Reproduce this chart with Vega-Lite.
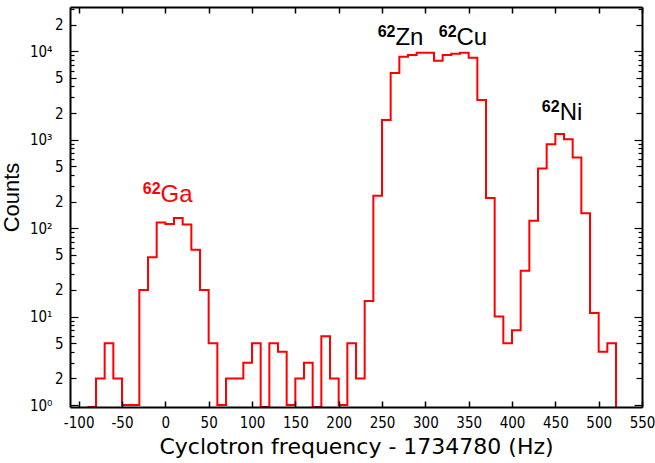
{
  "$schema": "https://vega.github.io/schema/vega-lite/v6.json",
  "width": 572,
  "height": 400,
  "autosize": {"type": "none"},
  "padding": {"left": 70, "top": 7, "right": 13, "bottom": 56},
  "background": "white",
  "config": {
    "view": {"stroke": null},
    "axis": {"titleFontWeight": "normal", "titleColor": "black", "labelColor": "black", "tickColor": "black", "domainColor": "black", "grid": false}
  },
  "datasets": {
    "hist": [
      {"lo": -90, "count": 0}, {"lo": -80, "count": 2}, {"lo": -70, "count": 5}, {"lo": -60, "count": 2},
      {"lo": -50, "count": 1}, {"lo": -40, "count": 1}, {"lo": -30, "count": 20}, {"lo": -20, "count": 47},
      {"lo": -10, "count": 116}, {"lo": 0, "count": 111}, {"lo": 10, "count": 130}, {"lo": 20, "count": 110},
      {"lo": 30, "count": 57}, {"lo": 40, "count": 20}, {"lo": 50, "count": 5}, {"lo": 60, "count": 1},
      {"lo": 70, "count": 2}, {"lo": 80, "count": 2}, {"lo": 90, "count": 3}, {"lo": 100, "count": 5},
      {"lo": 110, "count": 0}, {"lo": 120, "count": 5}, {"lo": 130, "count": 4}, {"lo": 140, "count": 1},
      {"lo": 150, "count": 2}, {"lo": 160, "count": 3}, {"lo": 170, "count": 0}, {"lo": 180, "count": 6},
      {"lo": 190, "count": 2}, {"lo": 200, "count": 1}, {"lo": 210, "count": 5}, {"lo": 220, "count": 2},
      {"lo": 230, "count": 15}, {"lo": 240, "count": 232}, {"lo": 250, "count": 1670}, {"lo": 260, "count": 5680},
      {"lo": 270, "count": 8670}, {"lo": 280, "count": 9060}, {"lo": 290, "count": 9600}, {"lo": 300, "count": 9620},
      {"lo": 310, "count": 7810}, {"lo": 320, "count": 9060}, {"lo": 330, "count": 9380}, {"lo": 340, "count": 9620},
      {"lo": 350, "count": 8450}, {"lo": 360, "count": 2810}, {"lo": 370, "count": 219}, {"lo": 380, "count": 10},
      {"lo": 390, "count": 5}, {"lo": 400, "count": 7}, {"lo": 410, "count": 33}, {"lo": 420, "count": 121},
      {"lo": 430, "count": 473}, {"lo": 440, "count": 889}, {"lo": 450, "count": 1160}, {"lo": 460, "count": 1010},
      {"lo": 470, "count": 629}, {"lo": 480, "count": 147}, {"lo": 490, "count": 11}, {"lo": 500, "count": 4},
      {"lo": 510, "count": 5}, {"lo": 520, "count": 0}
    ],
    "labels": [
      {"mass": "62", "el": "Ga", "x": -5.5, "y": 195},
      {"mass": "62", "el": "Zn", "x": 265.5, "y": 11800},
      {"mass": "62", "el": "Cu", "x": 336, "y": 11800},
      {"mass": "62", "el": "Ni", "x": 455, "y": 1680}
    ]
  },
  "layer": [
    {
      "data": {"name": "hist"},
      "mark": {"type": "line", "interpolate": "step-after", "color": "#ff0000", "strokeWidth": 2, "clip": true},
      "encoding": {
        "x": {
          "field": "lo", "type": "quantitative",
          "scale": {"domain": [-110, 550], "nice": false, "zero": false},
          "axis": {
            "orient": "bottom",
            "values": [-100, -50, 0, 50, 100, 150, 200, 250, 300, 350, 400, 450, 500, 550],
            "labelExpr": "'' + datum.value",
            "title": "Cyclotron frequency - 1734780 (Hz)",
            "titleFont": "DejaVu Sans", "titleFontSize": 22, "titlePadding": 6,
            "labelFont": "DejaVu Sans Condensed", "labelFontSize": 15, "labelPadding": 14,
            "labelFlush": false, "labelOverlap": false,
            "tickSize": -6, "tickWidth": 1.5,
            "domain": true, "domainWidth": 2, "zindex": 1
          }
        },
        "y": {
          "field": "count", "type": "quantitative",
          "scale": {"type": "log", "domain": [0.95, 31623], "nice": false, "clamp": true},
          "axis": {
            "orient": "left",
            "values": [1, 2, 3, 4, 5, 6, 7, 8, 9, 10, 20, 30, 40, 50, 60, 70, 80, 90, 100, 200, 300, 400, 500, 600, 700, 800, 900, 1000, 2000, 3000, 4000, 5000, 6000, 7000, 8000, 9000, 10000, 20000, 30000],
            "labelExpr": "datum.value==1?'10⁰':datum.value==10?'10¹':datum.value==100?'10²':datum.value==1000?'10³':datum.value==10000?'10⁴':indexof([2,20,200,2000,20000],datum.value)>=0?'2':indexof([5,50,500,5000],datum.value)>=0?'5':''",
            "title": "Counts",
            "titleFont": "Liberation Sans", "titleFontSize": 22, "titlePadding": 6, "titleY": 190,
            "labelFont": "DejaVu Sans Condensed", "labelFontSize": 15,
            "labelPadding": {"condition": {"test": "indexof([1,10,100,1000,10000],datum.value)>=0", "value": 26}, "value": 13},
            "labelFlush": false, "labelOverlap": false,
            "tickSize": {"condition": [{"test": "indexof([1,10,100,1000,10000],datum.value)>=0", "value": -8}, {"test": "indexof([2,20,200,2000,20000,5,50,500,5000],datum.value)>=0", "value": -6}], "value": -4},
            "tickWidth": 1.2,
            "domain": true, "domainWidth": 2, "zindex": 1
          }
        }
      }
    },
    {
      "data": {"name": "hist"},
      "mark": {"type": "point", "opacity": 0},
      "encoding": {
        "x": {
          "field": "lo", "type": "quantitative",
          "axis": {
            "orient": "top", "values": [-100, -50, 0, 50, 100, 150, 200, 250, 300, 350, 400, 450, 500, 550],
            "labels": false, "title": null, "tickSize": -6, "tickWidth": 1.5,
            "domain": true, "domainWidth": 2, "zindex": 1
          }
        },
        "y": {
          "field": "count", "type": "quantitative",
          "axis": {
            "orient": "right",
            "values": [1, 2, 3, 4, 5, 6, 7, 8, 9, 10, 20, 30, 40, 50, 60, 70, 80, 90, 100, 200, 300, 400, 500, 600, 700, 800, 900, 1000, 2000, 3000, 4000, 5000, 6000, 7000, 8000, 9000, 10000, 20000, 30000],
            "labels": false, "title": null,
            "tickSize": {"condition": [{"test": "indexof([1,10,100,1000,10000],datum.value)>=0", "value": -8}, {"test": "indexof([2,20,200,2000,20000,5,50,500,5000],datum.value)>=0", "value": -6}], "value": -4},
            "tickWidth": 1.2,
            "domain": true, "domainWidth": 2, "zindex": 1
          }
        }
      }
    },
    {
      "data": {"name": "labels"},
      "mark": {"type": "text", "align": "left", "baseline": "alphabetic", "font": "Liberation Sans", "fontSize": 24},
      "encoding": {
        "x": {"field": "x", "type": "quantitative", "axis": null},
        "y": {"field": "y", "type": "quantitative", "axis": null},
        "text": {"field": "el"},
        "color": {"condition": {"test": "datum.el=='Ga'", "value": "#ff0000"}, "value": "black"}
      }
    },
    {
      "data": {"name": "labels"},
      "mark": {"type": "text", "align": "right", "baseline": "alphabetic", "font": "Liberation Sans", "fontSize": 16, "fontWeight": "bold", "dy": -8},
      "encoding": {
        "x": {"field": "x", "type": "quantitative", "axis": null},
        "y": {"field": "y", "type": "quantitative", "axis": null},
        "text": {"field": "mass"},
        "color": {"condition": {"test": "datum.el=='Ga'", "value": "#ff0000"}, "value": "black"}
      }
    }
  ],
  "resolve": {"axis": {"x": "independent", "y": "independent"}}
}
